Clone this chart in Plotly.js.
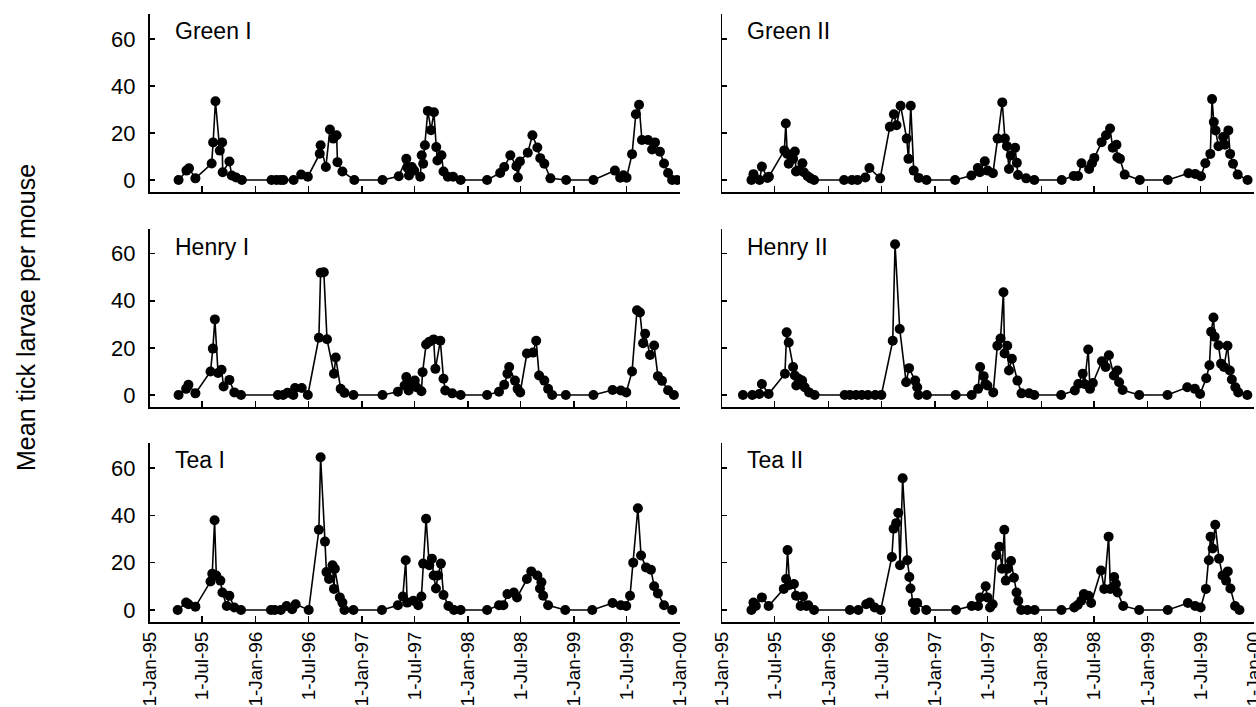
<!DOCTYPE html>
<html><head><meta charset="utf-8">
<script src="https://cdn.plot.ly/plotly-3.0.1.min.js"></script>
<style>html,body{margin:0;padding:0;background:#fff}</style>
</head><body>
<div id="chart" style="width:1256px;height:707px"></div>
<script>
const tickDates = ['1995-01-01','1995-07-01','1996-01-01','1996-07-01','1997-01-01','1997-07-01','1998-01-01','1998-07-01','1999-01-01','1999-07-01','2000-01-01'];
const tickLabels = ['1-Jan-95','1-Jul-95','1-Jan-96','1-Jul-96','1-Jan-97','1-Jul-97','1-Jan-98','1-Jul-98','1-Jan-99','1-Jul-99','1-Jan-00'];
const yTickVals = [0, 20, 40, 60];
const panelNames = ['Green I', 'Green II', 'Henry I', 'Henry II', 'Tea I', 'Tea II'];
const yTitle = 'Mean tick larvae per mouse';

const greenIDates = ['1995-04-11','1995-05-08','1995-05-17','1995-06-08','1995-08-03','1995-08-08','1995-08-16','1995-08-31','1995-09-08','1995-09-10','1995-10-03','1995-10-11','1995-10-26','1995-11-15',
'1996-02-25','1996-03-13','1996-03-27','1996-04-06','1996-05-11','1996-06-06','1996-06-29','1996-08-09','1996-08-12','1996-08-30','1996-09-13','1996-09-25','1996-10-06','1996-10-09','1996-10-26','1996-12-06',
'1997-03-13','1997-05-08','1997-06-03','1997-06-07','1997-06-12','1997-06-22','1997-06-30','1997-07-21','1997-07-26','1997-07-31','1997-08-06','1997-08-16','1997-08-27','1997-09-06','1997-09-14','1997-09-18','1997-10-02','1997-10-09','1997-10-24','1997-11-11','1997-12-07',
'1998-03-08','1998-04-22','1998-05-06','1998-05-27','1998-06-17','1998-06-22','1998-06-29','1998-07-26','1998-08-11','1998-08-28','1998-09-07','1998-09-21','1998-10-12','1998-12-05',
'1999-03-09','1999-05-22','1999-06-09','1999-06-20','1999-07-01','1999-07-20','1999-08-02','1999-08-13','1999-08-23','1999-09-13','1999-09-27','1999-10-07','1999-10-24','1999-11-07','1999-11-21','1999-12-05','1999-12-22'];
const greenIValues = [0,4,5,0.7,7,16,33.5,12.5,16,3.3,7.9,1.9,1.1,0,
0,0,0,0,0,2.3,1.4,11.2,14.8,5.5,21.5,17.6,19,7.6,3.6,0,
0,1.6,9,5.2,1.9,5.5,4,1.4,10.5,6.9,14.8,29.4,21.2,28.8,14,8.3,10.5,3.6,1.4,1.4,0,
0,3,5.5,10.5,5.9,1.1,7.9,11.6,19,13.8,9.3,6.9,0.7,0,
0,4,1,2,1,11,28,32,17,17,13,16,12,7,3,0,0];

const greenIIDates = ['1995-04-12','1995-04-19','1995-05-10','1995-05-18','1995-06-06','1995-06-11','1995-08-03','1995-08-08','1995-08-13','1995-08-18','1995-09-02','1995-09-08','1995-09-12','1995-09-18','1995-10-04','1995-10-09','1995-10-22','1995-11-01','1995-11-13',
'1996-02-24','1996-03-22','1996-04-10','1996-05-07','1996-05-21','1996-06-27','1996-07-30','1996-08-13','1996-08-22','1996-09-05','1996-09-26','1996-10-02','1996-10-10','1996-10-20','1996-11-06','1996-12-03',
'1997-03-11','1997-05-06','1997-05-28','1997-06-04','1997-06-21','1997-07-01','1997-07-19','1997-08-04','1997-08-20','1997-08-29','1997-09-05','1997-09-12','1997-09-18','1997-10-03','1997-10-09','1997-10-13','1997-11-10','1997-12-08',
'1998-03-12','1998-04-22','1998-05-07','1998-05-19','1998-06-14','1998-06-24','1998-07-02','1998-07-27','1998-08-11','1998-08-25','1998-09-03','1998-09-16','1998-09-19','1998-09-28','1998-10-14','1998-12-05',
'1999-03-11','1999-05-21','1999-06-13','1999-07-03','1999-07-18','1999-08-04','1999-08-10','1999-08-16','1999-08-22','1999-09-01','1999-09-17','1999-09-23','1999-10-05','1999-10-11','1999-10-21','1999-11-06','1999-12-10'];
const greenIIValues = [0,2.5,0,5.7,0.9,1.4,12.6,24,11.1,6.9,9,12.1,3.6,4,7.1,3.3,1.6,0.7,0,
0,0,0,1.1,5.1,0.7,22.6,28,23.3,31.6,17.6,9,31.6,4,0.9,0,
0,1.9,5.1,3.3,8,4,2.9,17.6,33,17.6,14.4,4.7,10.4,13.7,7.3,2.1,0.7,0,
0,1.7,1.7,7.1,4.7,7.1,9.4,16.1,19,21.9,13.7,15,9.7,9,2.3,0,
0,2.9,2.6,1.6,7.1,11.1,34.4,24.7,21.1,14.4,18.3,15,21.1,11.1,6.9,2.3,0];

const henryIDates = ['1995-04-11','1995-05-07','1995-05-15','1995-06-08','1995-07-30','1995-08-07','1995-08-14','1995-08-25','1995-09-06','1995-09-13','1995-10-03','1995-10-20','1995-11-12',
'1996-03-18','1996-04-05','1996-04-20','1996-05-10','1996-05-16','1996-06-08','1996-06-29','1996-08-06','1996-08-12','1996-08-23','1996-09-03','1996-09-27','1996-10-03','1996-10-20','1996-11-02','1996-12-03',
'1997-03-13','1997-05-05','1997-05-28','1997-06-03','1997-06-11','1997-06-17','1997-07-02','1997-07-08','1997-07-25','1997-07-29','1997-08-10','1997-08-21','1997-09-05','1997-09-11','1997-09-28','1997-10-09','1997-10-15','1997-11-08','1997-12-07',
'1998-03-08','1998-04-18','1998-05-06','1998-05-17','1998-05-23','1998-06-12','1998-06-21','1998-06-30','1998-07-23','1998-08-13','1998-08-24','1998-09-03','1998-09-21','1998-10-04','1998-10-18','1998-12-04',
'1999-03-09','1999-05-14','1999-06-11','1999-06-30','1999-07-20','1999-08-06','1999-08-16','1999-08-27','1999-09-03','1999-09-20','1999-10-04','1999-10-17','1999-10-31','1999-11-21','1999-12-11'];
const henryIValues = [0,2.6,4.3,0.7,10,19.7,32.1,9.3,10.7,3.6,6.4,1.1,0,
0,0,0.9,0,3,3,0,24.3,51.9,52.1,23.7,9,15.9,2.6,0.9,0,
0,1.4,4,7.6,1.9,4.7,6.1,3.3,1.6,9.7,21.4,22.6,23.6,11.1,23,6.9,1.9,0.7,0,
0,1.4,4.3,9,11.9,6.1,2.6,1.1,17.6,18,23,8.3,6.1,2.6,0,0,
0,2.1,1.9,1.1,10,36,35,22,26,17,21,8,6,2,0];

const henryIIDates = ['1995-03-14','1995-04-15','1995-05-09','1995-05-18','1995-06-10','1995-08-05','1995-08-11','1995-08-18','1995-09-02','1995-09-08','1995-09-13','1995-09-21','1995-10-03','1995-10-12','1995-10-27','1995-11-15',
'1996-02-26','1996-03-15','1996-04-05','1996-04-25','1996-05-16','1996-06-10','1996-07-01','1996-08-09','1996-08-17','1996-09-02','1996-09-24','1996-10-04','1996-10-25','1996-11-01','1996-11-05','1996-12-04',
'1997-03-13','1997-05-07','1997-05-29','1997-06-05','1997-06-17','1997-06-23','1997-06-30','1997-07-20','1997-08-03','1997-08-14','1997-08-24','1997-08-28','1997-09-06','1997-09-12','1997-09-22','1997-10-11','1997-10-25','1997-11-20','1997-12-08',
'1998-03-10','1998-04-26','1998-05-08','1998-05-23','1998-05-29','1998-06-11','1998-06-17','1998-06-27','1998-07-28','1998-08-10','1998-08-21','1998-09-07','1998-09-19','1998-09-25','1998-10-07','1998-12-03',
'1999-03-10','1999-05-17','1999-06-12','1999-06-30','1999-07-21','1999-08-01','1999-08-07','1999-08-15','1999-08-19','1999-09-01','1999-09-10','1999-09-20','1999-10-02','1999-10-10','1999-10-17','1999-10-29','1999-11-08','1999-12-09'];
const henryIIValues = [0,0,0.4,4.7,0.4,9,26.6,22.3,11.9,8.3,4,6.9,6.1,3.3,1.1,0,
0,0,0,0,0,0,0,23,64,28,5.4,11.4,6.1,3.3,0,0,
0,0,2.6,11.9,8,4.7,4,1.1,20.9,24,43.6,17.6,20.9,10.4,15.4,6.1,0.7,0.7,0,
0,1.9,4.7,9,4.7,19.3,2.6,5.1,14.3,11.9,16.9,8.3,10.4,5.4,2.1,0,
0,3.3,2.6,0.4,7.1,12.6,26.9,32.9,24.7,21.1,13.3,11.9,20.9,10.4,6.6,3.3,1.1,0];

const teaIDates = ['1995-04-08','1995-05-07','1995-05-15','1995-06-08','1995-07-30','1995-08-05','1995-08-13','1995-08-19','1995-09-02','1995-09-09','1995-09-24','1995-10-03','1995-10-20','1995-11-12',
'1996-02-23','1996-03-07','1996-03-28','1996-04-17','1996-05-06','1996-05-18','1996-07-02','1996-08-06','1996-08-12','1996-08-27','1996-09-01','1996-09-10','1996-09-22','1996-09-27','1996-09-30','1996-10-17','1996-10-26','1996-11-02','1996-12-03',
'1997-03-11','1997-05-05','1997-05-22','1997-06-01','1997-06-06','1997-06-27','1997-07-14','1997-07-25','1997-07-31','1997-08-10','1997-08-21','1997-08-30','1997-09-05','1997-09-13','1997-09-20','1997-09-30','1997-10-09','1997-10-26','1997-11-14','1997-12-07',
'1998-03-08','1998-04-18','1998-05-03','1998-05-17','1998-06-08','1998-06-19','1998-07-23','1998-08-07','1998-08-28','1998-09-06','1998-09-11','1998-09-17','1998-10-04','1998-12-02',
'1999-03-05','1999-05-14','1999-06-11','1999-06-30','1999-07-13','1999-07-24','1999-08-09','1999-08-20','1999-09-06','1999-09-23','1999-10-04','1999-10-17','1999-11-07','1999-12-05'];
const teaIValues = [0,3.1,2.4,1.4,12,15.3,37.9,14.6,12.4,7.4,1.7,6,1,0,
0,0,0,1.7,0.3,2.4,0,33.9,64.6,28.9,16,13.1,18.9,8.9,17.4,5.3,3.1,0,0,
0,2,5.7,21,3.1,3.9,2,5.7,19.6,38.6,18.9,21.7,14.6,9.1,14.6,19.6,6.3,1.7,0,0,
0,2,2,6.7,7.4,5.3,13.1,16.3,14.6,9.1,11.7,6,2,0,
0,2.9,2,1.7,6,20,43,23,18,17,10,7,2,0];

const teaIIDates = ['1995-04-12','1995-04-19','1995-04-27','1995-05-18','1995-06-10','1995-08-01','1995-08-09','1995-08-14','1995-08-21','1995-09-05','1995-09-12','1995-09-28','1995-10-06','1995-10-18','1995-10-24','1995-11-13',
'1996-03-15','1996-04-13','1996-05-10','1996-05-22','1996-06-08','1996-06-29','1996-08-06','1996-08-12','1996-08-21','1996-08-28','1996-09-03','1996-09-12','1996-09-28','1996-10-05','1996-10-09','1996-10-17','1996-10-25','1996-11-01','1996-12-02',
'1997-03-14','1997-05-07','1997-05-29','1997-06-05','1997-06-24','1997-06-30','1997-07-09','1997-07-18','1997-07-31','1997-08-10','1997-08-19','1997-08-27','1997-09-01','1997-09-07','1997-09-19','1997-09-29','1997-10-08','1997-10-14','1997-10-24','1997-11-14','1997-12-09',
'1998-03-11','1998-04-24','1998-05-06','1998-05-18','1998-05-27','1998-06-12','1998-06-21','1998-07-25','1998-08-05','1998-08-20','1998-08-26','1998-09-08','1998-09-14','1998-09-20','1998-10-09','1998-12-03',
'1999-03-11','1999-05-19','1999-06-13','1999-07-02','1999-07-20','1999-07-30','1999-08-05','1999-08-12','1999-08-21','1999-09-03','1999-09-15','1999-09-27','1999-10-03','1999-10-12','1999-10-28','1999-11-12'];
const teaIIValues = [0,3.1,1.7,5.3,1.7,8.9,13.1,25.3,10.6,11,6,1.7,5.7,1.7,2,0,
0,0,2.4,3.1,1,0,22.4,34.3,36.7,41,18.9,55.7,21,13.9,9.1,2.9,0,2.9,0,
0,1.7,1.7,5.3,10,5.3,1,2.4,23.1,26.7,17.4,33.9,12.4,17.4,20.7,13.6,7.4,3.9,0,0,0,
0,1,2.1,3.9,6.7,6,2.9,16.7,8.9,31,8.9,13.9,11,7.4,1.7,0,
0,2.9,1.7,1,8.9,21,31,26,36,21.7,14.6,12.4,16.3,9.1,1.7,0];

const panelDates = [greenIDates, greenIIDates, henryIDates, henryIIDates, teaIDates, teaIIDates];
const panelValues = [greenIValues, greenIIValues, henryIValues, henryIIValues, teaIValues, teaIIValues];

const W = 1256, H = 707;
const xDomLeft = [149.5 / W, 680 / W];
const xDomRight = [722 / W, 1254 / W];
const yDoms = [[1 - 192 / H, 1 - 14 / H], [1 - 407 / H, 1 - 228.7 / H], [1 - 622 / H, 1 - 443 / H]];
const labelY = [31, 246.5, 460];
const FONT = 'Liberation Sans, Arial, Helvetica, sans-serif';

const traces = [];
const layout = {
  width: W, height: H,
  margin: {l: 0, r: 0, t: 0, b: 0},
  paper_bgcolor: '#fff', plot_bgcolor: 'rgba(0,0,0,0)',
  showlegend: false,
  font: {family: FONT, color: '#000', size: 20},
  annotations: []
};

for (let i = 0; i < 6; i++) {
  const row = Math.floor(i / 2), col = i % 2;
  const n = i + 1;
  const xKey = n === 1 ? 'xaxis' : 'xaxis' + n;
  const yKey = n === 1 ? 'yaxis' : 'yaxis' + n;
  const xRef = n === 1 ? 'x' : 'x' + n;
  const yRef = n === 1 ? 'y' : 'y' + n;
  traces.push({
    type: 'scatter', mode: 'lines+markers',
    x: panelDates[i], y: panelValues[i],
    xaxis: xRef, yaxis: yRef,
    line: {color: '#000', width: 1.6},
    marker: {color: '#000', size: 10},
    hoverinfo: 'x+y'
  });
  layout[xKey] = {
    type: 'date', domain: col === 0 ? xDomLeft : xDomRight,
    anchor: yRef,
    range: ['1995-01-01', '2000-01-01'],
    tickmode: 'array', tickvals: tickDates, ticktext: tickLabels,
    showticklabels: row === 2, tickangle: -90,
    ticklabeloverflow: 'allow',
    tickfont: {family: FONT, size: 19, color: '#000'},
    ticks: 'inside', ticklen: 6, tickwidth: 1.5, tickcolor: '#000',
    showline: true, linecolor: '#000', linewidth: 2,
    showgrid: false, zeroline: false, fixedrange: true
  };
  layout[yKey] = {
    domain: yDoms[row], anchor: xRef,
    range: [-5.1, 70.6],
    tickmode: 'array', tickvals: yTickVals,
    showticklabels: col === 0,
    tickfont: {family: FONT, size: 22, color: '#000'},
    ticklabelstandoff: 8,
    ticks: 'inside', ticklen: 5, tickwidth: 1.5, tickcolor: '#000',
    showline: true, linecolor: '#000', linewidth: 1.5,
    showgrid: false, zeroline: false, fixedrange: true
  };
  layout.annotations.push({
    xref: 'paper', yref: 'paper',
    x: (col === 0 ? 173 : 745) / W, y: 1 - labelY[row] / H,
    xanchor: 'left', yanchor: 'middle',
    text: panelNames[i], showarrow: false,
    font: {family: FONT, size: 23, color: '#000'}
  });
}

layout.annotations.push({
  xref: 'paper', yref: 'paper', x: 26 / W, y: 1 - 318 / H,
  xanchor: 'center', yanchor: 'middle', textangle: -90,
  text: yTitle, showarrow: false,
  font: {family: FONT, size: 25, color: '#000'}
});

Plotly.newPlot('chart', traces, layout, {displayModeBar: false, staticPlot: true});
</script>
</body></html>
